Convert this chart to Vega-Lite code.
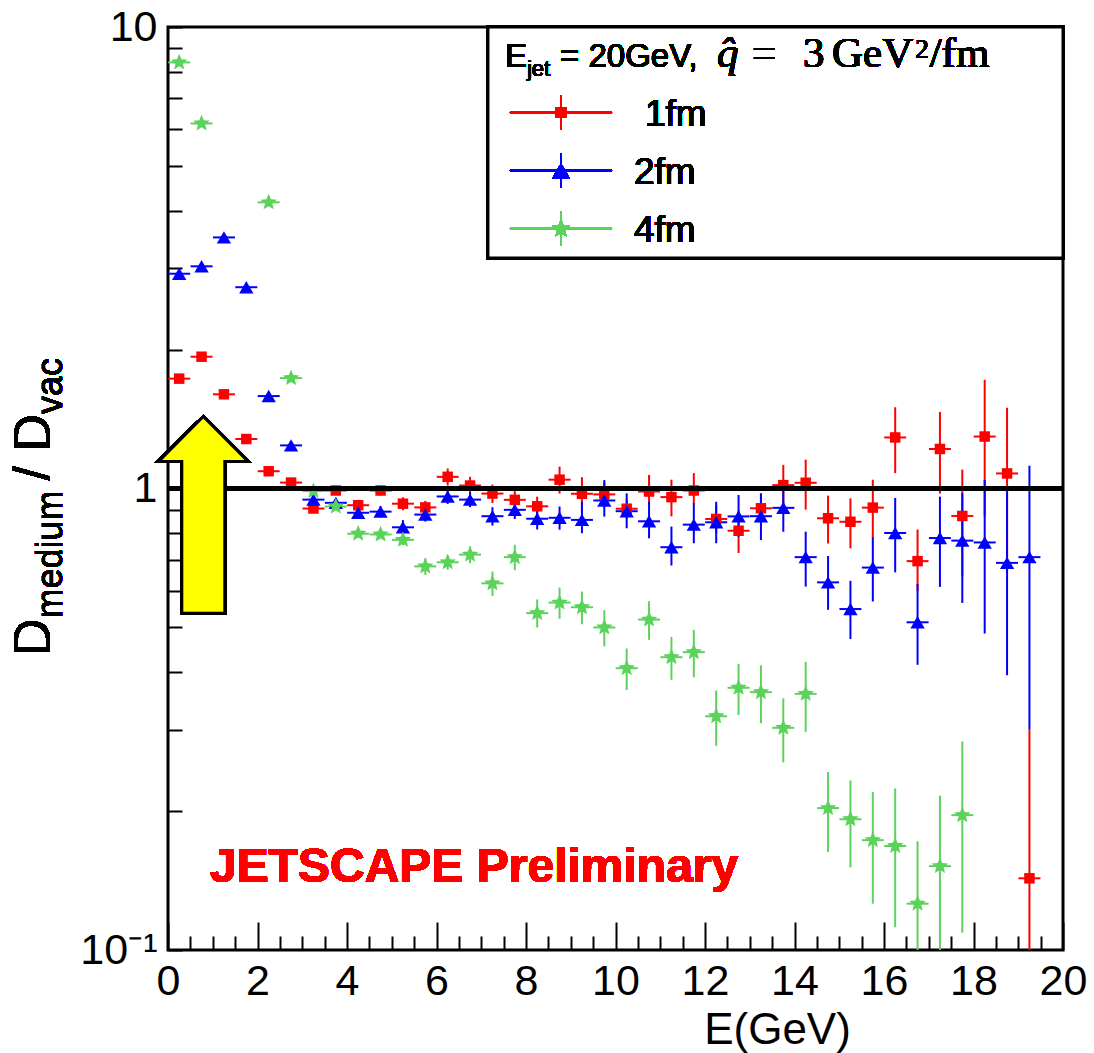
{
  "$schema": "https://vega.github.io/schema/vega-lite/v6.json",
  "autosize": {"type": "none"},
  "padding": {"left": 168, "top": 27, "right": 31, "bottom": 103},
  "width": 895,
  "height": 923,
  "background": "white",
  "config": {
    "view": {"stroke": "black", "strokeWidth": 3},
    "legend": {"disable": true},
    "axis": {"grid": false, "domain": false, "ticks": true, "tickColor": "black", "tickWidth": 2, "labelColor": "black", "titleColor": "black"},
    "text": {"fontWeight": "normal", "color": "black"}
  },
  "data": {
    "values": [
      {"s": "1fm", "x": 0.25, "y": 1.73, "lo": 1.71, "hi": 1.75},
      {"s": "1fm", "x": 0.75, "y": 1.93, "lo": 1.91, "hi": 1.95},
      {"s": "1fm", "x": 1.25, "y": 1.6, "lo": 1.58, "hi": 1.62},
      {"s": "1fm", "x": 1.75, "y": 1.28, "lo": 1.265, "hi": 1.295},
      {"s": "1fm", "x": 2.25, "y": 1.09, "lo": 1.075, "hi": 1.105},
      {"s": "1fm", "x": 2.75, "y": 1.03, "lo": 1.015, "hi": 1.045},
      {"s": "1fm", "x": 3.25, "y": 0.905, "lo": 0.89, "hi": 0.92},
      {"s": "1fm", "x": 3.75, "y": 0.99, "lo": 0.97, "hi": 1.01},
      {"s": "1fm", "x": 4.25, "y": 0.92, "lo": 0.895, "hi": 0.945},
      {"s": "1fm", "x": 4.75, "y": 0.99, "lo": 0.965, "hi": 1.015},
      {"s": "1fm", "x": 5.25, "y": 0.927, "lo": 0.897, "hi": 0.957},
      {"s": "1fm", "x": 5.75, "y": 0.91, "lo": 0.88, "hi": 0.94},
      {"s": "1fm", "x": 6.25, "y": 1.06, "lo": 1.015, "hi": 1.105},
      {"s": "1fm", "x": 6.75, "y": 1.015, "lo": 0.97, "hi": 1.06},
      {"s": "1fm", "x": 7.25, "y": 0.975, "lo": 0.93, "hi": 1.02},
      {"s": "1fm", "x": 7.75, "y": 0.945, "lo": 0.9, "hi": 0.99},
      {"s": "1fm", "x": 8.25, "y": 0.915, "lo": 0.87, "hi": 0.96},
      {"s": "1fm", "x": 8.75, "y": 1.045, "lo": 0.975, "hi": 1.115},
      {"s": "1fm", "x": 9.25, "y": 0.974, "lo": 0.89, "hi": 1.058},
      {"s": "1fm", "x": 9.75, "y": 0.971, "lo": 0.91, "hi": 1.03},
      {"s": "1fm", "x": 10.25, "y": 0.904, "lo": 0.86, "hi": 0.95},
      {"s": "1fm", "x": 10.75, "y": 0.985, "lo": 0.925, "hi": 1.07},
      {"s": "1fm", "x": 11.25, "y": 0.958, "lo": 0.87, "hi": 1.045},
      {"s": "1fm", "x": 11.75, "y": 0.99, "lo": 0.925, "hi": 1.08},
      {"s": "1fm", "x": 12.25, "y": 0.859, "lo": 0.8, "hi": 0.92},
      {"s": "1fm", "x": 12.75, "y": 0.81, "lo": 0.725, "hi": 0.895},
      {"s": "1fm", "x": 13.25, "y": 0.906, "lo": 0.835, "hi": 0.975},
      {"s": "1fm", "x": 13.75, "y": 1.017, "lo": 0.91, "hi": 1.125},
      {"s": "1fm", "x": 14.25, "y": 1.029, "lo": 0.9, "hi": 1.155},
      {"s": "1fm", "x": 14.75, "y": 0.862, "lo": 0.76, "hi": 0.965},
      {"s": "1fm", "x": 15.25, "y": 0.847, "lo": 0.742, "hi": 0.952},
      {"s": "1fm", "x": 15.75, "y": 0.909, "lo": 0.78, "hi": 1.045},
      {"s": "1fm", "x": 16.25, "y": 1.29, "lo": 1.08, "hi": 1.5},
      {"s": "1fm", "x": 16.75, "y": 0.696, "lo": 0.6, "hi": 0.815},
      {"s": "1fm", "x": 17.25, "y": 1.218, "lo": 0.975, "hi": 1.465},
      {"s": "1fm", "x": 17.75, "y": 0.872, "lo": 0.645, "hi": 1.099},
      {"s": "1fm", "x": 18.25, "y": 1.296, "lo": 0.87, "hi": 1.72},
      {"s": "1fm", "x": 18.75, "y": 1.078, "lo": 0.66, "hi": 1.496},
      {"s": "1fm", "x": 19.25, "y": 0.143, "lo": 0.05, "hi": 0.3},
      {"s": "2fm", "x": 0.25, "y": 2.92, "lo": 2.88, "hi": 2.96},
      {"s": "2fm", "x": 0.75, "y": 3.03, "lo": 2.99, "hi": 3.07},
      {"s": "2fm", "x": 1.25, "y": 3.5, "lo": 3.45, "hi": 3.55},
      {"s": "2fm", "x": 1.75, "y": 2.73, "lo": 2.69, "hi": 2.77},
      {"s": "2fm", "x": 2.25, "y": 1.586, "lo": 1.56, "hi": 1.61},
      {"s": "2fm", "x": 2.75, "y": 1.24, "lo": 1.22, "hi": 1.26},
      {"s": "2fm", "x": 3.25, "y": 0.946, "lo": 0.926, "hi": 0.966},
      {"s": "2fm", "x": 3.75, "y": 0.931, "lo": 0.911, "hi": 0.951},
      {"s": "2fm", "x": 4.25, "y": 0.886, "lo": 0.861, "hi": 0.911},
      {"s": "2fm", "x": 4.75, "y": 0.891, "lo": 0.866, "hi": 0.916},
      {"s": "2fm", "x": 5.25, "y": 0.824, "lo": 0.794, "hi": 0.854},
      {"s": "2fm", "x": 5.75, "y": 0.878, "lo": 0.848, "hi": 0.908},
      {"s": "2fm", "x": 6.25, "y": 0.961, "lo": 0.926, "hi": 0.996},
      {"s": "2fm", "x": 6.75, "y": 0.946, "lo": 0.911, "hi": 0.981},
      {"s": "2fm", "x": 7.25, "y": 0.871, "lo": 0.831, "hi": 0.911},
      {"s": "2fm", "x": 7.75, "y": 0.899, "lo": 0.859, "hi": 0.939},
      {"s": "2fm", "x": 8.25, "y": 0.86, "lo": 0.815, "hi": 0.905},
      {"s": "2fm", "x": 8.75, "y": 0.864, "lo": 0.814, "hi": 0.914},
      {"s": "2fm", "x": 9.25, "y": 0.855, "lo": 0.8, "hi": 0.936},
      {"s": "2fm", "x": 9.75, "y": 0.942, "lo": 0.869, "hi": 1.043},
      {"s": "2fm", "x": 10.25, "y": 0.893, "lo": 0.82, "hi": 0.976},
      {"s": "2fm", "x": 10.75, "y": 0.849, "lo": 0.78, "hi": 0.936},
      {"s": "2fm", "x": 11.25, "y": 0.746, "lo": 0.681, "hi": 0.827},
      {"s": "2fm", "x": 11.75, "y": 0.835, "lo": 0.761, "hi": 0.929},
      {"s": "2fm", "x": 12.25, "y": 0.845, "lo": 0.761, "hi": 0.936},
      {"s": "2fm", "x": 12.75, "y": 0.87, "lo": 0.786, "hi": 0.968},
      {"s": "2fm", "x": 13.25, "y": 0.871, "lo": 0.773, "hi": 0.976},
      {"s": "2fm", "x": 13.75, "y": 0.908, "lo": 0.806, "hi": 1.026},
      {"s": "2fm", "x": 14.25, "y": 0.71, "lo": 0.613, "hi": 0.806},
      {"s": "2fm", "x": 14.75, "y": 0.626, "lo": 0.546, "hi": 0.714},
      {"s": "2fm", "x": 15.25, "y": 0.548, "lo": 0.472, "hi": 0.631},
      {"s": "2fm", "x": 15.75, "y": 0.674, "lo": 0.569, "hi": 0.783},
      {"s": "2fm", "x": 16.25, "y": 0.801, "lo": 0.658, "hi": 0.954},
      {"s": "2fm", "x": 16.75, "y": 0.513, "lo": 0.415, "hi": 0.621},
      {"s": "2fm", "x": 17.25, "y": 0.781, "lo": 0.612, "hi": 0.96},
      {"s": "2fm", "x": 17.75, "y": 0.771, "lo": 0.565, "hi": 0.977},
      {"s": "2fm", "x": 18.25, "y": 0.764, "lo": 0.485, "hi": 1.043},
      {"s": "2fm", "x": 18.75, "y": 0.69, "lo": 0.394, "hi": 0.986},
      {"s": "2fm", "x": 19.25, "y": 0.71, "lo": 0.3, "hi": 1.12},
      {"s": "4fm", "x": 0.25, "y": 8.38, "lo": 8.28, "hi": 8.48},
      {"s": "4fm", "x": 0.75, "y": 6.18, "lo": 6.1, "hi": 6.26},
      {"s": "4fm", "x": 2.25, "y": 4.17, "lo": 4.12, "hi": 4.22},
      {"s": "4fm", "x": 2.75, "y": 1.735, "lo": 1.715, "hi": 1.755},
      {"s": "4fm", "x": 3.25, "y": 0.987, "lo": 0.972, "hi": 1.002},
      {"s": "4fm", "x": 3.75, "y": 0.914, "lo": 0.899, "hi": 0.929},
      {"s": "4fm", "x": 4.25, "y": 0.798, "lo": 0.783, "hi": 0.813},
      {"s": "4fm", "x": 4.75, "y": 0.795, "lo": 0.78, "hi": 0.81},
      {"s": "4fm", "x": 5.25, "y": 0.774, "lo": 0.754, "hi": 0.794},
      {"s": "4fm", "x": 5.75, "y": 0.678, "lo": 0.65, "hi": 0.706},
      {"s": "4fm", "x": 6.25, "y": 0.692, "lo": 0.667, "hi": 0.717},
      {"s": "4fm", "x": 6.75, "y": 0.719, "lo": 0.689, "hi": 0.749},
      {"s": "4fm", "x": 7.25, "y": 0.623, "lo": 0.585, "hi": 0.661},
      {"s": "4fm", "x": 7.75, "y": 0.71, "lo": 0.665, "hi": 0.755},
      {"s": "4fm", "x": 8.25, "y": 0.537, "lo": 0.5, "hi": 0.575},
      {"s": "4fm", "x": 8.75, "y": 0.566, "lo": 0.522, "hi": 0.61},
      {"s": "4fm", "x": 9.25, "y": 0.553, "lo": 0.508, "hi": 0.598},
      {"s": "4fm", "x": 9.75, "y": 0.5, "lo": 0.455, "hi": 0.545},
      {"s": "4fm", "x": 10.25, "y": 0.408, "lo": 0.366, "hi": 0.45},
      {"s": "4fm", "x": 10.75, "y": 0.52, "lo": 0.47, "hi": 0.57},
      {"s": "4fm", "x": 11.25, "y": 0.431, "lo": 0.385, "hi": 0.477},
      {"s": "4fm", "x": 11.75, "y": 0.442, "lo": 0.39, "hi": 0.494},
      {"s": "4fm", "x": 12.25, "y": 0.321, "lo": 0.277, "hi": 0.365},
      {"s": "4fm", "x": 12.75, "y": 0.37, "lo": 0.323, "hi": 0.417},
      {"s": "4fm", "x": 13.25, "y": 0.362, "lo": 0.31, "hi": 0.414},
      {"s": "4fm", "x": 13.75, "y": 0.303, "lo": 0.255, "hi": 0.351},
      {"s": "4fm", "x": 14.25, "y": 0.359, "lo": 0.297, "hi": 0.421},
      {"s": "4fm", "x": 14.75, "y": 0.203, "lo": 0.163, "hi": 0.243},
      {"s": "4fm", "x": 15.25, "y": 0.192, "lo": 0.151, "hi": 0.233},
      {"s": "4fm", "x": 15.75, "y": 0.173, "lo": 0.126, "hi": 0.22},
      {"s": "4fm", "x": 16.25, "y": 0.168, "lo": 0.112, "hi": 0.224},
      {"s": "4fm", "x": 16.75, "y": 0.126, "lo": 0.08, "hi": 0.172},
      {"s": "4fm", "x": 17.25, "y": 0.152, "lo": 0.088, "hi": 0.216},
      {"s": "4fm", "x": 17.75, "y": 0.196, "lo": 0.109, "hi": 0.283}
    ]
  },
  "resolve": {"axis": {"x": "independent"}},
  "layer": [
    {
      "mark": {"type": "tick", "orient": "horizontal", "size": 22, "thickness": 2, "clip": true, "opacity": 1},
      "encoding": {
        "x": {
          "field": "x", "type": "quantitative",
          "axis": {
            "orient": "top",
            "offset": -923,
            "values": [0.5, 1, 1.5, 2.5, 3, 3.5, 4.5, 5, 5.5, 6.5, 7, 7.5, 8.5, 9, 9.5, 10.5, 11, 11.5, 12.5, 13, 13.5, 14.5, 15, 15.5, 16.5, 17, 17.5, 18.5, 19, 19.5],
            "tickSize": 14,
            "labels": false,
            "domain": false,
            "grid": false,
            "title": null
          }
        },
        "y": {"field": "y", "type": "quantitative"},
        "color": {"field": "s", "type": "nominal", "legend": null}
      }
    },
    {
      "layer": [
        {
          "mark": {"type": "rule", "strokeWidth": 2, "clip": true},
          "encoding": {
            "x": {
              "field": "x", "type": "quantitative",
              "scale": {"domain": [0, 20], "nice": false, "zero": false},
              "axis": {
                "orient": "bottom",
                "values": [0, 2, 4, 6, 8, 10, 12, 14, 16, 18, 20],
                "tickSize": -28,
                "labelPadding": 38,
                "labelFont": "Liberation Sans",
                "labelFontSize": 43,
                "labelFlush": false,
                "labelOverlap": false,
                "title": "E(GeV)",
                "titleFont": "Liberation Sans",
                "titleFontSize": 44,
                "titleFontWeight": "normal",
                "titleX": 609,
                "titleY": 93,
                "titleAlign": "center",
                "titleBaseline": "alphabetic"
              }
            },
            "y": {
              "field": "lo", "type": "quantitative",
              "scale": {"type": "log", "domain": [0.1, 10], "nice": false},
              "axis": {
                "values": [0.1, 0.2, 0.3, 0.4, 0.5, 0.6, 0.7, 0.8, 0.9, 1, 2, 3, 4, 5, 6, 7, 8, 9, 10],
                "labelExpr": "datum.value === 10 ? '10' : datum.value === 1 ? '1' : datum.value === 0.1 ? '10⁻¹' : ''",
                "tickSize": -14,
                "labelPadding": 25,
                "labelFont": "Liberation Sans",
                "labelFontSize": 43,
                "labelOverlap": false,
                "labelFlush": false,
                "title": null
              }
            },
            "y2": {"field": "hi"},
            "color": {"field": "s", "type": "nominal", "scale": {"domain": ["1fm", "2fm", "4fm"], "range": ["#ff0000", "#0000ff", "#5bd35b"]}, "legend": null}
          }
        },
        {
          "mark": {"type": "point", "filled": true, "opacity": 1, "strokeWidth": 0, "clip": true},
          "encoding": {
            "x": {"field": "x", "type": "quantitative"},
            "y": {"field": "y", "type": "quantitative"},
            "color": {"field": "s", "type": "nominal", "legend": null},
            "shape": {"field": "s", "type": "nominal", "legend": null, "scale": {"domain": ["1fm", "2fm", "4fm"], "range": ["square", "triangle-up", "M0,-1L0.2645,-0.364L0.951,-0.309L0.428,0.139L0.588,0.809L0,0.45L-0.588,0.809L-0.428,0.139L-0.951,-0.309L-0.2645,-0.364Z"]}},
            "size": {"field": "s", "type": "nominal", "legend": null, "scale": {"domain": ["1fm", "2fm", "4fm"], "range": [110, 300, 358]}}
          }
        },
        {
          "mark": {"type": "rule", "color": "black", "strokeWidth": 3.5},
          "encoding": {"y": {"datum": 1}}
        },
        {
          "mark": {"type": "point", "shape": "M0,-1L0.4575,-0.542L0.2186,-0.542L0.2186,1L-0.2186,1L-0.2186,-0.542L-0.4575,-0.542Z", "size": 38691, "filled": true, "fill": "#ffff00", "stroke": "black", "strokeWidth": 3, "opacity": 1},
          "encoding": {"x": {"datum": 0.789}, "y": {"datum": 0.8767}}
        },
        {
          "mark": {"type": "rect", "fill": "white", "stroke": "black", "strokeWidth": 3},
          "encoding": {"x": {"datum": 7.15}, "x2": {"datum": 20}, "y": {"datum": 10}, "y2": {"datum": 3.16}}
        },
        {
          "encoding": {"y": {"datum": 6.522}},
          "layer": [
            {"mark": {"type": "rule", "color": "#ff0000", "strokeWidth": 2}, "encoding": {"x": {"datum": 7.642}, "x2": {"datum": 9.922}}},
            {"mark": {"type": "rule", "color": "#ff0000", "strokeWidth": 2}, "encoding": {"x": {"datum": 8.782}, "y": {"datum": 7.099}, "y2": {"datum": 5.991}}},
            {"mark": {"type": "point", "shape": "square", "size": 110, "filled": true, "color": "#ff0000", "opacity": 1}, "encoding": {"x": {"datum": 8.782}}},
            {"mark": {"type": "text", "text": "1fm", "font": "Liberation Sans", "fontSize": 37, "fontWeight": "normal", "align": "left", "baseline": "alphabetic", "color": "black"}, "encoding": {"x": {"datum": 10.659}, "y": {"datum": 6.103}}}
          ]
        },
        {
          "encoding": {"y": {"datum": 4.883}},
          "layer": [
            {"mark": {"type": "rule", "color": "#0000ff", "strokeWidth": 2}, "encoding": {"x": {"datum": 7.642}, "x2": {"datum": 9.922}}},
            {"mark": {"type": "rule", "color": "#0000ff", "strokeWidth": 2}, "encoding": {"x": {"datum": 8.782}, "y": {"datum": 5.315}, "y2": {"datum": 4.485}}},
            {"mark": {"type": "point", "shape": "triangle-up", "size": 300, "filled": true, "color": "#0000ff", "opacity": 1}, "encoding": {"x": {"datum": 8.782}}},
            {"mark": {"type": "text", "text": "2fm", "font": "Liberation Sans", "fontSize": 37, "fontWeight": "normal", "align": "left", "baseline": "alphabetic", "color": "black"}, "encoding": {"x": {"datum": 10.413}, "y": {"datum": 4.569}}}
          ]
        },
        {
          "encoding": {"y": {"datum": 3.656}},
          "layer": [
            {"mark": {"type": "rule", "color": "#5bd35b", "strokeWidth": 2}, "encoding": {"x": {"datum": 7.642}, "x2": {"datum": 9.922}}},
            {"mark": {"type": "rule", "color": "#5bd35b", "strokeWidth": 2}, "encoding": {"x": {"datum": 8.782}, "y": {"datum": 3.979}, "y2": {"datum": 3.358}}},
            {"mark": {"type": "point", "shape": "M0,-1L0.2645,-0.364L0.951,-0.309L0.428,0.139L0.588,0.809L0,0.45L-0.588,0.809L-0.428,0.139L-0.951,-0.309L-0.2645,-0.364Z", "size": 358, "filled": true, "color": "#5bd35b", "opacity": 1}, "encoding": {"x": {"datum": 8.782}}},
            {"mark": {"type": "text", "text": "4fm", "font": "Liberation Sans", "fontSize": 37, "fontWeight": "normal", "align": "left", "baseline": "alphabetic", "color": "black"}, "encoding": {"x": {"datum": 10.413}, "y": {"datum": 3.4205}}}
          ]
        },
        {"mark": {"type": "text", "text": "E", "font": "Liberation Sans", "fontSize": 33, "fontWeight": "normal", "align": "left", "baseline": "alphabetic"}, "encoding": {"x": {"datum": 7.531}, "y": {"datum": 8.203}}},
        {"mark": {"type": "text", "text": "jet", "font": "Liberation Sans", "fontSize": 22, "fontWeight": "normal", "align": "left", "baseline": "alphabetic"}, "encoding": {"x": {"datum": 8.022}, "y": {"datum": 7.832}}},
        {"mark": {"type": "text", "text": "= 20GeV,", "font": "Liberation Sans", "fontSize": 33, "fontWeight": "normal", "align": "left", "baseline": "alphabetic"}, "encoding": {"x": {"datum": 8.76}, "y": {"datum": 8.203}}},
        {"mark": {"type": "text", "text": "q̂", "font": "Liberation Serif", "fontStyle": "italic", "fontSize": 43, "fontWeight": "normal", "align": "left", "baseline": "alphabetic"}, "encoding": {"x": {"datum": 12.268}, "y": {"datum": 8.203}}},
        {"mark": {"type": "text", "text": "=", "font": "Liberation Serif", "fontSize": 43, "fontWeight": "normal", "align": "left", "baseline": "alphabetic"}, "encoding": {"x": {"datum": 13.05}, "y": {"datum": 8.203}}},
        {"mark": {"type": "text", "text": "3", "font": "Liberation Serif", "fontSize": 43, "fontWeight": "normal", "align": "left", "baseline": "alphabetic"}, "encoding": {"x": {"datum": 14.19}, "y": {"datum": 8.203}}},
        {"mark": {"type": "text", "text": "GeV", "font": "Liberation Serif", "fontSize": 43, "fontWeight": "normal", "align": "left", "baseline": "alphabetic"}, "encoding": {"x": {"datum": 14.838}, "y": {"datum": 8.203}}},
        {"mark": {"type": "text", "text": "2", "font": "Liberation Serif", "fontSize": 27, "fontWeight": "normal", "align": "left", "baseline": "alphabetic"}, "encoding": {"x": {"datum": 16.7}, "y": {"datum": 8.567}}},
        {"mark": {"type": "text", "text": "/fm", "font": "Liberation Serif", "fontSize": 43, "fontWeight": "normal", "align": "left", "baseline": "alphabetic"}, "encoding": {"x": {"datum": 17.02}, "y": {"datum": 8.203}}},
        {"mark": {"type": "text", "text": "JETSCAPE Preliminary", "font": "Liberation Sans", "fontWeight": "bold", "fontSize": 48, "color": "#ff0000", "align": "left", "baseline": "alphabetic"}, "encoding": {"x": {"datum": 0.9385}, "y": {"datum": 0.1406}}},
        {"mark": {"type": "text", "text": "D", "font": "Liberation Sans", "fontSize": 52, "fontWeight": "normal", "angle": 270, "align": "left", "baseline": "alphabetic"}, "encoding": {"x": {"datum": -2.637}, "y": {"datum": 0.4336}}},
        {"mark": {"type": "text", "text": "medium", "font": "Liberation Sans", "fontSize": 36, "fontWeight": "normal", "angle": 270, "align": "left", "baseline": "alphabetic"}, "encoding": {"x": {"datum": -2.369}, "y": {"datum": 0.5227}}},
        {"mark": {"type": "text", "text": "/ D", "font": "Liberation Sans", "fontSize": 52, "fontWeight": "normal", "angle": 270, "align": "left", "baseline": "alphabetic"}, "encoding": {"x": {"datum": -2.637}, "y": {"datum": 1.0407}}},
        {"mark": {"type": "text", "text": "vac", "font": "Liberation Sans", "fontSize": 36, "fontWeight": "normal", "angle": 270, "align": "left", "baseline": "alphabetic"}, "encoding": {"x": {"datum": -2.369}, "y": {"datum": 1.45}}}
      ]
    }
  ]
}
